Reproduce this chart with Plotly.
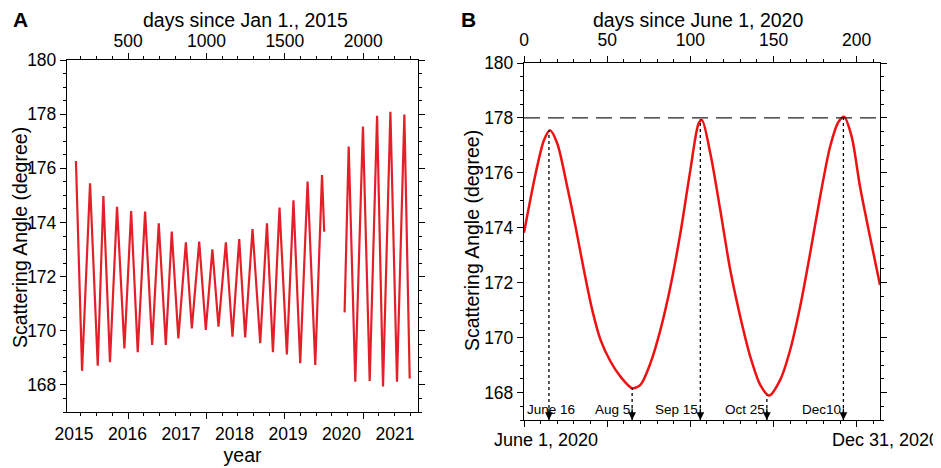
import plotly.graph_objects as go

# panel A: extremes of the scattering angle, days since Jan 1 2015
days_a1 = [168, 207, 258, 307, 343, 385, 430, 477, 520, 562, 609, 654, 696, 741,
           779, 821, 869, 907, 954, 996, 1038, 1077, 1124, 1166, 1209, 1247,
           1294, 1343, 1386, 1424, 1466, 1513, 1555, 1598, 1645, 1694, 1737, 1751]
angle_a1 = [176.27, 168.52, 175.45, 168.71, 174.98, 168.84, 174.58, 169.35,
            174.42, 169.21, 174.40, 169.48, 173.97, 169.48, 173.66, 169.72,
            173.27, 170.09, 173.29, 170.03, 173.01, 170.15, 173.27, 169.78,
            173.39, 169.75, 173.76, 169.54, 173.97, 169.21, 174.55, 169.13,
            174.82, 168.80, 175.51, 168.74, 175.75, 173.66]
days_a2 = [1881, 1907, 1949, 1998, 2041, 2088, 2126, 2173, 2215, 2262, 2296]
angle_a2 = [170.68, 176.80, 168.12, 177.54, 168.15, 177.94, 167.94, 178.09,
            168.12, 177.99, 168.24]
year_labels = [2015, 2016, 2017, 2018, 2019, 2020, 2021]

# panel B: days since June 1 2020
days_b = [0, 7, 12, 15.6, 20, 26, 31, 36, 41, 46, 52, 58, 65, 70, 76, 82, 88,
          94, 100, 105, 107, 112, 118, 124, 130, 136, 142, 147.4, 154, 160,
          166, 172, 178, 184, 189, 192.4, 197, 202, 208, 214]
angle_b = [173.82, 175.98, 177.19, 177.55, 177.07, 175.49, 174.04, 172.46,
           171.01, 169.92, 169.13, 168.58, 168.16, 168.28, 169.07, 170.28,
           171.85, 173.80, 176.10, 177.80, 177.92, 176.71, 174.64, 172.46,
           170.76, 169.31, 168.28, 167.89, 168.46, 169.55, 171.13, 173.07,
           175.13, 176.95, 177.85, 178.04, 177.31, 175.49, 173.67, 171.92]
event_labels = ["June 16", "Aug 5", "Sep 15", "Oct 25", "Dec10"]
event_days = [15, 65, 106, 146, 192]
event_angles = [177.55, 168.16, 177.95, 167.89, 178.04]
ref_angle = 178
date_labels = ["June 1, 2020", "Dec 31, 2020"]
date_days = [0, 213]

FONT = "Liberation Sans, Arial, sans-serif"
OFF = 8                     # page margin around the plot div
W, H = 941 - OFF, 468 - OFF
y_range = [167, 180]
TITLE = dict(size=19.5)


def dx(px):
    return (px - OFF) / W


def dy(py):
    return 1 - (py - OFF) / H


fig = go.Figure()
fig.add_trace(go.Scatter(x=days_a1 + [None] + days_a2,
                         y=angle_a1 + [None] + angle_a2,
                         mode='lines', line=dict(color='#e3202a', width=2.2),
                         xaxis='x', yaxis='y', showlegend=False))
fig.add_trace(go.Scatter(x=days_b, y=angle_b, mode='lines',
                         line=dict(color='#ee1111', width=2.5, shape='spline',
                                   smoothing=0.8),
                         xaxis='x4', yaxis='y2', showlegend=False))

# invisible helpers so the overlay (label only) axes get drawn
hidden = dict(mode='markers', marker=dict(opacity=0), hoverinfo='skip',
              showlegend=False)
fig.add_trace(go.Scatter(x=days_a1, y=angle_a1, xaxis='x2', yaxis='y', **hidden))
fig.add_trace(go.Scatter(x=year_labels, y=[y_range[0]] * len(year_labels),
                         xaxis='x3', yaxis='y', **hidden))
fig.add_trace(go.Scatter(x=days_b, y=angle_b, xaxis='x5', yaxis='y2', **hidden))

frame = dict(showline=True, linecolor='black', linewidth=1.3, mirror='ticks',
             ticks='outside', tickcolor='black', ticklen=6, tickwidth=1.2,
             showgrid=False, zeroline=False, automargin=False,
             tickfont=dict(size=17.5))
labels_only = dict(showline=False, showgrid=False, zeroline=False,
                   ticks='outside', tickcolor='rgba(0,0,0,0)', automargin=False,
                   tickfont=dict(size=17.5))

dom_a = [dx(67), dx(418)]
dom_b = [dx(524), dx(880)]

fig.update_layout(
    width=W, height=H, margin=dict(l=0, r=0, t=0, b=0),
    plot_bgcolor='white', paper_bgcolor='white',
    font=dict(family=FONT, color='black', size=17),
    xaxis=dict(frame, domain=dom_a, range=[111, 2349], anchor='y',
               dtick=500, tick0=0, showticklabels=False,
               minor=dict(dtick=100, ticklen=3, ticks='outside', tickcolor='black')),
    xaxis2=dict(labels_only, overlaying='x', side='top', anchor='y',
                range=[111, 2349], dtick=500, tick0=0, ticklen=5),
    xaxis3=dict(labels_only, overlaying='x', side='bottom', anchor='y',
                range=[2014.87, 2021.43], tickvals=year_labels, ticklen=6,
                title=dict(text='year', font=TITLE, standoff=5)),
    yaxis=dict(frame, domain=[dy(412), dy(60)], range=y_range, anchor='x',
               dtick=2, tick0=0,
               minor=dict(dtick=0.5, ticklen=3, ticks='outside', tickcolor='black')),
    xaxis4=dict(frame, domain=dom_b, range=[0, 214], anchor='y2',
                dtick=50, tick0=0, showticklabels=False,
                minor=dict(dtick=10, ticklen=3, ticks='outside', tickcolor='black')),
    xaxis5=dict(labels_only, overlaying='x4', side='top', anchor='y2',
                range=[0, 214], dtick=50, tick0=0, ticklen=9),
    yaxis2=dict(frame, domain=[dy(420), dy(63)], range=y_range, anchor='x4',
                dtick=2, tick0=0,
                minor=dict(dtick=0.5, ticklen=3, ticks='outside', tickcolor='black')),
)

# axis titles and panel letters placed by page pixel spot (centre),
# kept inside the drawable area
titles = [('days since Jan 1., 2015', 245, 20, 0, TITLE),
          ('days since June 1, 2020', 698, 20, 0, TITLE),
          ('Scattering Angle (degree)', 20, 238, -90, TITLE),
          ('Scattering Angle (degree)', 472, 241, -90, TITLE),
          ('<b>A</b>', 20, 20, 0, dict(size=21)),
          ('<b>B</b>', 468, 20, 0, dict(size=21))]
for txt, px, py, ang, fnt in titles:
    fig.add_annotation(x=dx(px), y=dy(py), xref='paper', yref='paper', text=txt,
                       textangle=ang, showarrow=False, font=fnt,
                       xanchor='center', yanchor='middle')

# dashed reference at the maximum angle
fig.add_shape(type='line', xref='x4 domain', yref='y2', x0=0, x1=1,
              y0=ref_angle, y1=ref_angle,
              line=dict(color='#222222', width=1.3, dash='16px,8px'))

# dotted markers of extrema + arrows + labels
for i, (lab, d, a) in enumerate(zip(event_labels, event_days, event_angles)):
    fig.add_shape(type='line', xref='x4', yref='y2', x0=d, x1=d,
                  y0=y_range[0], y1=a, line=dict(color='black', width=1.3, dash='dot'))
    fig.add_annotation(x=d, y=y_range[0], xref='x4', yref='y2', text='',
                       showarrow=True, ax=0, ay=-13, arrowhead=2,
                       arrowsize=1.2, arrowwidth=1.3, arrowcolor='black')
    fig.add_annotation(x=d, y=167.38, xref='x4', yref='y2', text=lab,
                       showarrow=False, font=dict(size=13.5),
                       xanchor='center' if i == 0 else 'right',
                       xshift=2 if i == 0 else 0)

for lab, d, sh in zip(date_labels, date_days, [22, 7]):
    fig.add_annotation(x=d, y=0, xref='x4', yref='y2 domain', text=lab,
                       showarrow=False, yanchor='top', yshift=-8, xshift=sh,
                       font=dict(size=18))

fig.write_html("out.html")
